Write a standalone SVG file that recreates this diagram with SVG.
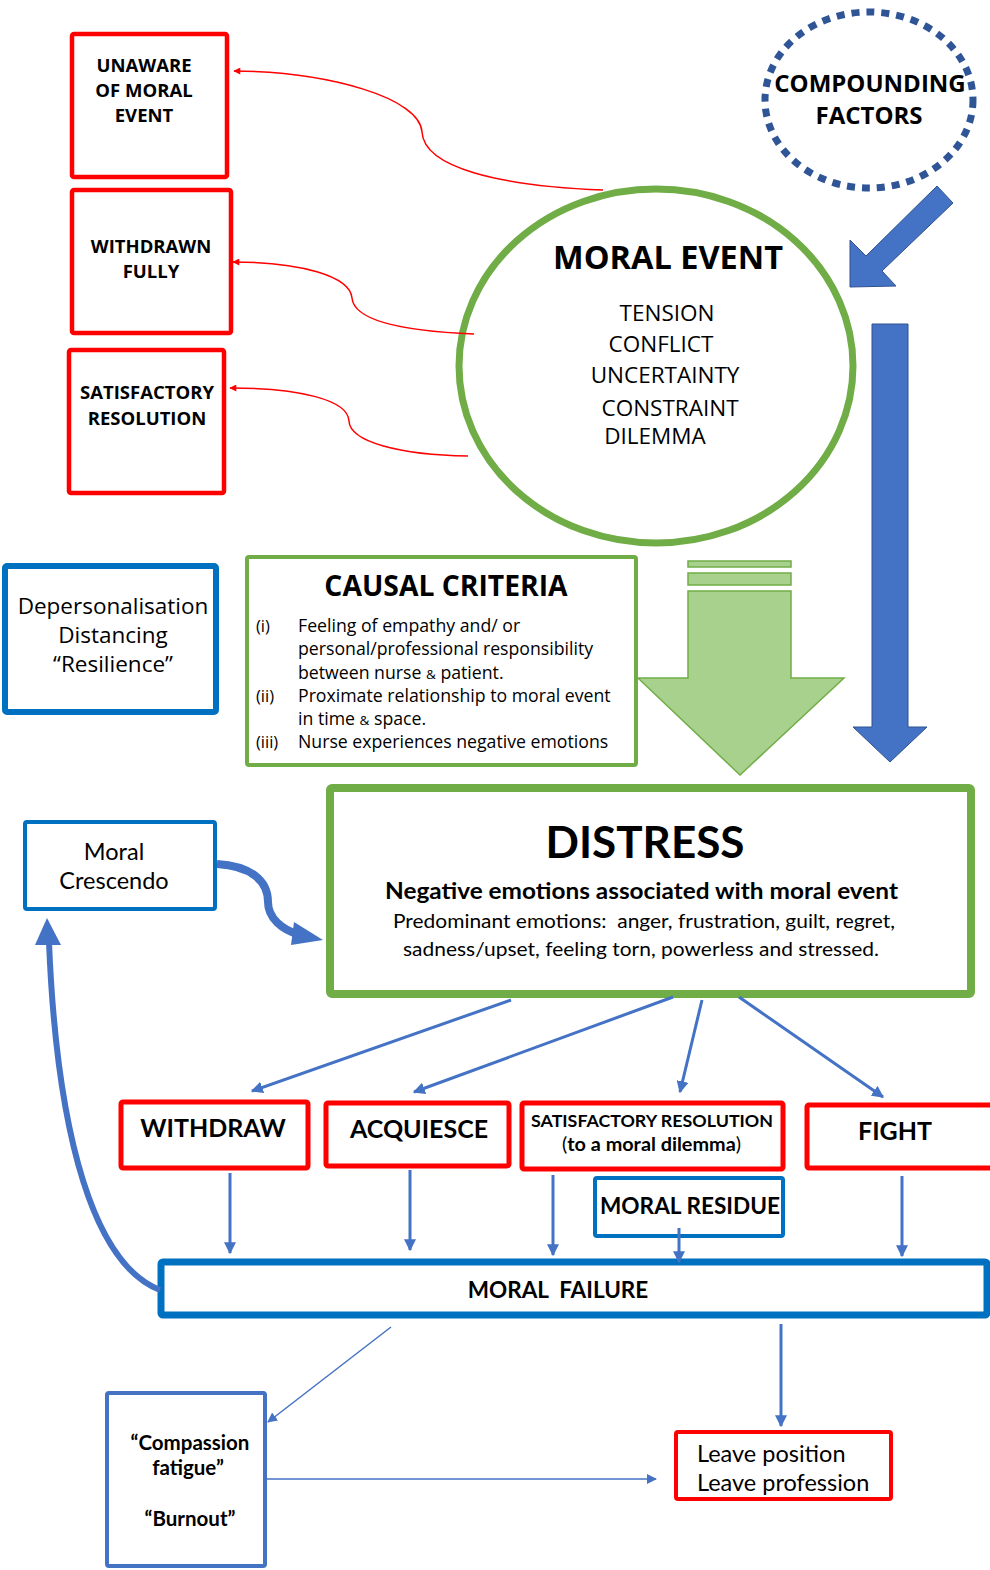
<svg xmlns="http://www.w3.org/2000/svg" width="990" height="1570" viewBox="0 0 990 1570">
<style>
.os{font-family:"Open Sans","Liberation Sans",sans-serif;fill:#000}
.la{font-family:Lato,"Open Sans","Liberation Sans",sans-serif;fill:#000}
.b{font-weight:bold}
.redbox{fill:#fff;stroke:#FF0000}
.bluebox{fill:#fff;stroke:#0070C0}
.red{fill:none;stroke:#FF0000;stroke-width:1.5}
.bl{fill:none;stroke:#4472C4}
</style>
<defs>
<marker id="ar" viewBox="0 0 10 10" refX="9" refY="5" markerWidth="9" markerHeight="7" markerUnits="userSpaceOnUse" orient="auto"><path d="M0,0 L10,5 L0,10 z" fill="#FF0000"/></marker>
<marker id="ab" viewBox="0 0 10 10" refX="9" refY="5" markerWidth="12" markerHeight="12" markerUnits="userSpaceOnUse" orient="auto"><path d="M0,0 L10,5 L0,10 z" fill="#4472C4"/></marker>
<marker id="abs" viewBox="0 0 10 10" refX="9" refY="5" markerWidth="10" markerHeight="10" markerUnits="userSpaceOnUse" orient="auto"><path d="M0,0 L10,5 L0,10 z" fill="#4472C4"/></marker>
</defs>

<g id="unaware"><rect class="redbox" x="72" y="34" width="155" height="143" stroke-width="4.5" rx="2"/>
<text class="os b" font-size="18.5" text-anchor="middle"><tspan x="144" y="72">UNAWARE</tspan><tspan x="144" y="97">OF MORAL</tspan><tspan x="144" y="122">EVENT</tspan></text></g>

<g id="withdrawn"><rect class="redbox" x="72" y="190" width="159" height="143" stroke-width="4.5" rx="2"/>
<text class="os b" font-size="18.5" text-anchor="middle"><tspan x="151" y="253">WITHDRAWN</tspan><tspan x="151" y="278">FULLY</tspan></text></g>

<g id="satres1"><rect class="redbox" x="69" y="350" width="155" height="143" stroke-width="4.5" rx="2"/>
<text class="os b" font-size="18.5" text-anchor="middle"><tspan x="147" y="399">SATISFACTORY</tspan><tspan x="147" y="425">RESOLUTION</tspan></text></g>

<g id="compounding"><ellipse cx="869" cy="100" rx="104" ry="88" fill="#fff" stroke="#2F5597" stroke-width="7" stroke-dasharray="8 7"/>
<text class="os b" font-size="24" text-anchor="middle"><tspan x="870" y="92">COMPOUNDING</tspan><tspan x="869" y="124">FACTORS</tspan></text></g>

<g id="moral-event"><ellipse cx="656" cy="366" rx="197" ry="177" fill="#fff" stroke="#70AD47" stroke-width="7"/>
<text class="os b" font-size="32.5" text-anchor="middle" x="668" y="269">MORAL EVENT</text>
<text class="os" font-size="22.5" text-anchor="middle"><tspan x="667" y="321">TENSION</tspan><tspan x="661" y="352">CONFLICT</tspan><tspan x="665" y="383">UNCERTAINTY</tspan><tspan x="670" y="416">CONSTRAINT</tspan><tspan x="655" y="444">DILEMMA</tspan></text></g>

<g id="depersonalisation"><rect class="bluebox" x="5" y="566" width="211" height="146" stroke-width="6" rx="2"/>
<text class="os" font-size="22.5" text-anchor="middle"><tspan x="113" y="614">Depersonalisation</tspan><tspan x="113" y="643">Distancing</tspan><tspan x="113" y="672">“Resilience”</tspan></text></g>

<g id="causal-criteria"><rect x="247" y="557" width="389" height="208" fill="#fff" stroke="#70AD47" stroke-width="4" rx="2"/>
<text class="os b" font-size="28.3" text-anchor="middle" x="446" y="596">CAUSAL CRITERIA</text>
<text class="os" font-size="16.5"><tspan x="256" y="632">(i)</tspan><tspan x="256" y="702">(ii)</tspan><tspan x="256" y="748">(iii)</tspan></text>
<text class="os" font-size="17.7"><tspan x="298" y="632">Feeling of empathy and/ or</tspan><tspan x="298" y="655">personal/professional responsibility</tspan><tspan x="298" y="679">between nurse <tspan font-size="13.5">&amp;</tspan> patient.</tspan><tspan x="298" y="702">Proximate relationship to moral event</tspan><tspan x="298" y="725">in time <tspan font-size="13.5">&amp;</tspan> space.</tspan><tspan x="298" y="748">Nurse experiences negative emotions</tspan></text></g>

<g id="distress"><rect x="330" y="788" width="641" height="206" fill="#fff" stroke="#70AD47" stroke-width="8" rx="2"/>
<text class="la b" font-size="44" text-anchor="middle" x="645" y="858">DISTRESS</text>
<text class="la b" font-size="22.5" x="385" y="899" textLength="513" lengthAdjust="spacingAndGlyphs">Negative emotions associated with moral event</text>
<text class="la" font-size="19.5" x="393" y="928" textLength="502" lengthAdjust="spacingAndGlyphs" xml:space="preserve">Predominant emotions:  anger, frustration, guilt, regret,</text>
<text class="la" font-size="19.5" x="403" y="956" textLength="476" lengthAdjust="spacingAndGlyphs">sadness/upset, feeling torn, powerless and stressed.</text></g>

<g id="moral-crescendo"><rect class="bluebox" x="25" y="822" width="190" height="87" stroke-width="4" rx="2"/>
<text class="la" font-size="23.5" text-anchor="middle"><tspan x="114" y="860">Moral</tspan><tspan x="114" y="889">Crescendo</tspan></text></g>

<g id="withdraw"><rect class="redbox" x="121" y="1102" width="187" height="66" stroke-width="5" rx="2"/>
<text class="la b" font-size="25" text-anchor="middle" x="213" y="1137">WITHDRAW</text></g>

<g id="acquiesce"><rect class="redbox" x="326" y="1103" width="183" height="63" stroke-width="5" rx="2"/>
<text class="la b" font-size="25" text-anchor="middle" x="419" y="1138">ACQUIESCE</text></g>

<g id="satres2"><rect class="redbox" x="522" y="1103" width="261" height="66" stroke-width="5" rx="2"/>
<text class="la b" font-size="17.5" x="531" y="1127" textLength="242" lengthAdjust="spacingAndGlyphs">SATISFACTORY RESOLUTION</text>
<text class="la" font-size="18.5" x="562" y="1151" textLength="179" lengthAdjust="spacingAndGlyphs">(<tspan font-weight="bold">to a moral dilemma</tspan>)</text></g>

<g id="fight"><rect class="redbox" x="807" y="1105" width="190" height="63" stroke-width="5" rx="2"/>
<text class="la b" font-size="25" text-anchor="middle" x="895" y="1140">FIGHT</text></g>

<g id="moral-residue"><rect class="bluebox" x="595" y="1178" width="188" height="58" stroke-width="4" rx="2"/>
<text class="la b" font-size="22.5" x="600" y="1214" textLength="180" lengthAdjust="spacingAndGlyphs">MORAL RESIDUE</text></g>

<g id="moral-failure"><rect class="bluebox" x="161" y="1262" width="826" height="53" stroke-width="7" rx="2"/>
<text class="la b" font-size="22.5" text-anchor="middle" x="558" y="1298" xml:space="preserve">MORAL  FAILURE</text></g>

<g id="compassion"><rect x="107" y="1393" width="158" height="173" fill="#fff" stroke="#4472C4" stroke-width="4" rx="2"/>
<text class="la b" font-size="20.5" text-anchor="middle"><tspan x="190" y="1450">“Compassion</tspan><tspan x="188" y="1475">fatigue”</tspan><tspan x="190" y="1526">“Burnout”</tspan></text></g>

<g id="leave"><rect class="redbox" x="676" y="1432" width="215" height="67" stroke-width="4" rx="2"/>
<text class="la" font-size="23.5"><tspan x="697" y="1462">Leave position</tspan><tspan x="697" y="1491">Leave profession</tspan></text></g>

<g id="connectors">
<path class="red" d="M603,190 C500,186 424,168 422,132 C420,98 330,72 234,71" marker-end="url(#ar)"/>
<path class="red" d="M474,334 C400,331 354,320 352,298 C350,276 300,262 233,262" marker-end="url(#ar)"/>
<path class="red" d="M468,456 C400,455 350,442 349,421 C348,400 300,388 230,388" marker-end="url(#ar)"/>

<polygon points="937,186 953,203 882,271 896,286 850,287 850,240 866,256" fill="#4472C4" stroke="#2F528F" stroke-width="1"/>
<polygon points="872,324 908,324 908,727 927,727 890,762 853,727 872,727" fill="#4472C4" stroke="#2F528F" stroke-width="1"/>

<g fill="#A9D18E" stroke="#70AD47" stroke-width="1.5">
<rect x="688" y="561" width="103" height="6"/>
<rect x="688" y="573" width="103" height="12"/>
<polygon points="688,591 791,591 791,678 844,678 740,775 638,678 688,678"/>
</g>

<path class="bl" stroke-width="8" d="M217,864 C250,866 268,880 268,902 C268,918 282,930 300,935"/>
<polygon points="294,922 323,940 291,945" fill="#4472C4"/>

<path class="bl" stroke-width="6" d="M160,1290 C95,1265 57,1140 49,942"/>
<polygon points="47,918 61,945 35,945" fill="#4472C4"/>

<g stroke-width="3" class="bl">
<line x1="511" y1="1000" x2="252" y2="1091" marker-end="url(#ab)"/>
<line x1="673" y1="997" x2="414" y2="1092" marker-end="url(#ab)"/>
<line x1="702" y1="1000" x2="680" y2="1092" marker-end="url(#ab)"/>
<line x1="739" y1="997" x2="883" y2="1097" marker-end="url(#ab)"/>
<line x1="230" y1="1173" x2="230" y2="1253" marker-end="url(#ab)"/>
<line x1="410" y1="1170" x2="410" y2="1250" marker-end="url(#ab)"/>
<line x1="553" y1="1175" x2="553" y2="1255" marker-end="url(#ab)"/>
<line x1="679" y1="1228" x2="679" y2="1262" marker-end="url(#ab)"/>
<line x1="902" y1="1176" x2="902" y2="1256" marker-end="url(#ab)"/>
<line x1="781" y1="1324" x2="781" y2="1426" marker-end="url(#ab)"/>
</g>
<line class="bl" stroke-width="1.5" x1="391" y1="1327" x2="268" y2="1422" marker-end="url(#abs)"/>
<line class="bl" stroke-width="1.5" x1="267" y1="1479" x2="656" y2="1479" marker-end="url(#abs)"/>
</g>
</svg>
